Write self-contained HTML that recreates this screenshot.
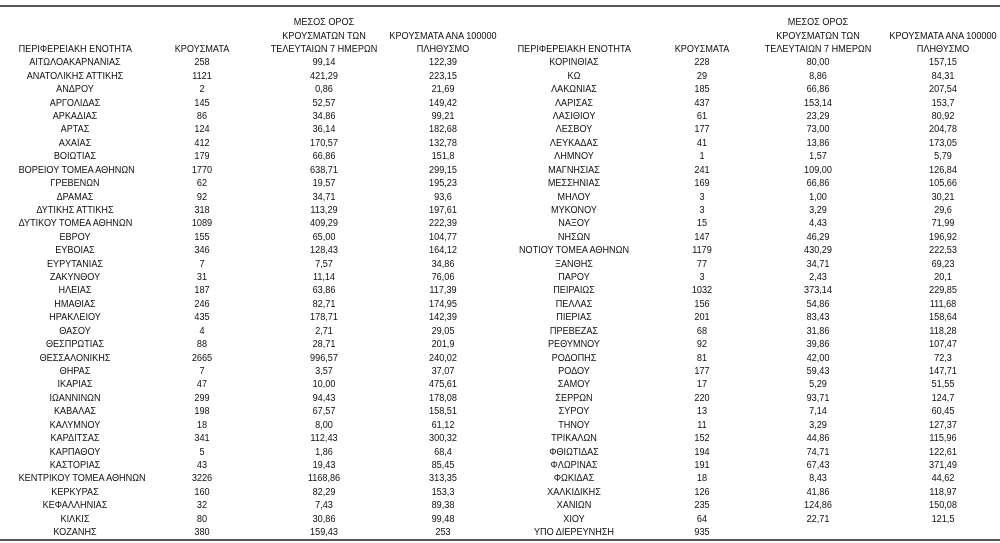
<!DOCTYPE html>
<html><head><meta charset="utf-8"><style>
html,body{margin:0;padding:0;background:#fff;}
body{width:1000px;height:543px;position:relative;overflow:hidden;font-family:"Liberation Sans","DejaVu Sans",sans-serif;font-size:9.7px;color:#111;}
.line{position:absolute;left:0;width:1000px;height:2px;background:#555;}
.r{position:relative;height:13.43px;line-height:13.43px;}
.r span,.h span{position:absolute;top:0;width:120px;text-align:center;white-space:nowrap;transform:scaleX(0.94);}
.r span:nth-child(1),.h span:nth-child(1){left:15px}
.r span:nth-child(2),.h span:nth-child(2){left:142px}
.r span:nth-child(3),.h span:nth-child(3){left:264px}
.r span:nth-child(4),.h span:nth-child(4){left:383px}
.r span:nth-child(5),.h span:nth-child(5){left:514px}
.r span:nth-child(6),.h span:nth-child(6){left:642px}
.r span:nth-child(7),.h span:nth-child(7){left:758px}
.r span:nth-child(8),.h span:nth-child(8){left:883px}
.h{position:absolute;left:0;width:1000px;height:13.5px;line-height:13.5px;}
#rows{position:absolute;left:0;top:56.3px;width:1000px;}
</style></head><body>
<div class="line" style="top:5px"></div>
<div class="h" style="top:16px"><span></span><span></span><span>ΜΕΣΟΣ ΟΡΟΣ</span><span></span><span></span><span></span><span>ΜΕΣΟΣ ΟΡΟΣ</span><span></span></div>
<div class="h" style="top:29.5px"><span></span><span></span><span>ΚΡΟΥΣΜΑΤΩΝ ΤΩΝ</span><span>ΚΡΟΥΣΜΑΤΑ ΑΝΑ 100000</span><span></span><span></span><span>ΚΡΟΥΣΜΑΤΩΝ ΤΩΝ</span><span>ΚΡΟΥΣΜΑΤΑ ΑΝΑ 100000</span></div>
<div class="h" style="top:43px"><span>ΠΕΡΙΦΕΡΕΙΑΚΗ ΕΝΟΤΗΤΑ</span><span>ΚΡΟΥΣΜΑΤΑ</span><span>ΤΕΛΕΥΤΑΙΩΝ 7 ΗΜΕΡΩΝ</span><span>ΠΛΗΘΥΣΜΟ</span><span>ΠΕΡΙΦΕΡΕΙΑΚΗ ΕΝΟΤΗΤΑ</span><span>ΚΡΟΥΣΜΑΤΑ</span><span>ΤΕΛΕΥΤΑΙΩΝ 7 ΗΜΕΡΩΝ</span><span>ΠΛΗΘΥΣΜΟ</span></div>
<div id="rows">
<div class="r"><span>ΑΙΤΩΛΟΑΚΑΡΝΑΝΙΑΣ</span><span>258</span><span>99,14</span><span>122,39</span><span>ΚΟΡΙΝΘΙΑΣ</span><span>228</span><span>80,00</span><span>157,15</span></div>
<div class="r"><span>ΑΝΑΤΟΛΙΚΗΣ ΑΤΤΙΚΗΣ</span><span>1121</span><span>421,29</span><span>223,15</span><span>ΚΩ</span><span>29</span><span>8,86</span><span>84,31</span></div>
<div class="r"><span>ΑΝΔΡΟΥ</span><span>2</span><span>0,86</span><span>21,69</span><span>ΛΑΚΩΝΙΑΣ</span><span>185</span><span>66,86</span><span>207,54</span></div>
<div class="r"><span>ΑΡΓΟΛΙΔΑΣ</span><span>145</span><span>52,57</span><span>149,42</span><span>ΛΑΡΙΣΑΣ</span><span>437</span><span>153,14</span><span>153,7</span></div>
<div class="r"><span>ΑΡΚΑΔΙΑΣ</span><span>86</span><span>34,86</span><span>99,21</span><span>ΛΑΣΙΘΙΟΥ</span><span>61</span><span>23,29</span><span>80,92</span></div>
<div class="r"><span>ΑΡΤΑΣ</span><span>124</span><span>36,14</span><span>182,68</span><span>ΛΕΣΒΟΥ</span><span>177</span><span>73,00</span><span>204,78</span></div>
<div class="r"><span>ΑΧΑΪΑΣ</span><span>412</span><span>170,57</span><span>132,78</span><span>ΛΕΥΚΑΔΑΣ</span><span>41</span><span>13,86</span><span>173,05</span></div>
<div class="r"><span>ΒΟΙΩΤΙΑΣ</span><span>179</span><span>66,86</span><span>151,8</span><span>ΛΗΜΝΟΥ</span><span>1</span><span>1,57</span><span>5,79</span></div>
<div class="r"><span>ΒΟΡΕΙΟΥ ΤΟΜΕΑ ΑΘΗΝΩΝ</span><span>1770</span><span>638,71</span><span>299,15</span><span>ΜΑΓΝΗΣΙΑΣ</span><span>241</span><span>109,00</span><span>126,84</span></div>
<div class="r"><span>ΓΡΕΒΕΝΩΝ</span><span>62</span><span>19,57</span><span>195,23</span><span>ΜΕΣΣΗΝΙΑΣ</span><span>169</span><span>66,86</span><span>105,66</span></div>
<div class="r"><span>ΔΡΑΜΑΣ</span><span>92</span><span>34,71</span><span>93,6</span><span>ΜΗΛΟΥ</span><span>3</span><span>1,00</span><span>30,21</span></div>
<div class="r"><span>ΔΥΤΙΚΗΣ ΑΤΤΙΚΗΣ</span><span>318</span><span>113,29</span><span>197,61</span><span>ΜΥΚΟΝΟΥ</span><span>3</span><span>3,29</span><span>29,6</span></div>
<div class="r"><span>ΔΥΤΙΚΟΥ ΤΟΜΕΑ ΑΘΗΝΩΝ</span><span>1089</span><span>409,29</span><span>222,39</span><span>ΝΑΞΟΥ</span><span>15</span><span>4,43</span><span>71,99</span></div>
<div class="r"><span>ΕΒΡΟΥ</span><span>155</span><span>65,00</span><span>104,77</span><span>ΝΗΣΩΝ</span><span>147</span><span>46,29</span><span>196,92</span></div>
<div class="r"><span>ΕΥΒΟΙΑΣ</span><span>346</span><span>128,43</span><span>164,12</span><span>ΝΟΤΙΟΥ ΤΟΜΕΑ ΑΘΗΝΩΝ</span><span>1179</span><span>430,29</span><span>222,53</span></div>
<div class="r"><span>ΕΥΡΥΤΑΝΙΑΣ</span><span>7</span><span>7,57</span><span>34,86</span><span>ΞΑΝΘΗΣ</span><span>77</span><span>34,71</span><span>69,23</span></div>
<div class="r"><span>ΖΑΚΥΝΘΟΥ</span><span>31</span><span>11,14</span><span>76,06</span><span>ΠΑΡΟΥ</span><span>3</span><span>2,43</span><span>20,1</span></div>
<div class="r"><span>ΗΛΕΙΑΣ</span><span>187</span><span>63,86</span><span>117,39</span><span>ΠΕΙΡΑΙΩΣ</span><span>1032</span><span>373,14</span><span>229,85</span></div>
<div class="r"><span>ΗΜΑΘΙΑΣ</span><span>246</span><span>82,71</span><span>174,95</span><span>ΠΕΛΛΑΣ</span><span>156</span><span>54,86</span><span>111,68</span></div>
<div class="r"><span>ΗΡΑΚΛΕΙΟΥ</span><span>435</span><span>178,71</span><span>142,39</span><span>ΠΙΕΡΙΑΣ</span><span>201</span><span>83,43</span><span>158,64</span></div>
<div class="r"><span>ΘΑΣΟΥ</span><span>4</span><span>2,71</span><span>29,05</span><span>ΠΡΕΒΕΖΑΣ</span><span>68</span><span>31,86</span><span>118,28</span></div>
<div class="r"><span>ΘΕΣΠΡΩΤΙΑΣ</span><span>88</span><span>28,71</span><span>201,9</span><span>ΡΕΘΥΜΝΟΥ</span><span>92</span><span>39,86</span><span>107,47</span></div>
<div class="r"><span>ΘΕΣΣΑΛΟΝΙΚΗΣ</span><span>2665</span><span>996,57</span><span>240,02</span><span>ΡΟΔΟΠΗΣ</span><span>81</span><span>42,00</span><span>72,3</span></div>
<div class="r"><span>ΘΗΡΑΣ</span><span>7</span><span>3,57</span><span>37,07</span><span>ΡΟΔΟΥ</span><span>177</span><span>59,43</span><span>147,71</span></div>
<div class="r"><span>ΙΚΑΡΙΑΣ</span><span>47</span><span>10,00</span><span>475,61</span><span>ΣΑΜΟΥ</span><span>17</span><span>5,29</span><span>51,55</span></div>
<div class="r"><span>ΙΩΑΝΝΙΝΩΝ</span><span>299</span><span>94,43</span><span>178,08</span><span>ΣΕΡΡΩΝ</span><span>220</span><span>93,71</span><span>124,7</span></div>
<div class="r"><span>ΚΑΒΑΛΑΣ</span><span>198</span><span>67,57</span><span>158,51</span><span>ΣΥΡΟΥ</span><span>13</span><span>7,14</span><span>60,45</span></div>
<div class="r"><span>ΚΑΛΥΜΝΟΥ</span><span>18</span><span>8,00</span><span>61,12</span><span>ΤΗΝΟΥ</span><span>11</span><span>3,29</span><span>127,37</span></div>
<div class="r"><span>ΚΑΡΔΙΤΣΑΣ</span><span>341</span><span>112,43</span><span>300,32</span><span>ΤΡΙΚΑΛΩΝ</span><span>152</span><span>44,86</span><span>115,96</span></div>
<div class="r"><span>ΚΑΡΠΑΘΟΥ</span><span>5</span><span>1,86</span><span>68,4</span><span>ΦΘΙΩΤΙΔΑΣ</span><span>194</span><span>74,71</span><span>122,61</span></div>
<div class="r"><span>ΚΑΣΤΟΡΙΑΣ</span><span>43</span><span>19,43</span><span>85,45</span><span>ΦΛΩΡΙΝΑΣ</span><span>191</span><span>67,43</span><span>371,49</span></div>
<div class="r"><span>ΚΕΝΤΡΙΚΟΥ ΤΟΜΕΑ ΑΘΗΝΩΝ</span><span>3226</span><span>1168,86</span><span>313,35</span><span>ΦΩΚΙΔΑΣ</span><span>18</span><span>8,43</span><span>44,62</span></div>
<div class="r"><span>ΚΕΡΚΥΡΑΣ</span><span>160</span><span>82,29</span><span>153,3</span><span>ΧΑΛΚΙΔΙΚΗΣ</span><span>126</span><span>41,86</span><span>118,97</span></div>
<div class="r"><span>ΚΕΦΑΛΛΗΝΙΑΣ</span><span>32</span><span>7,43</span><span>89,38</span><span>ΧΑΝΙΩΝ</span><span>235</span><span>124,86</span><span>150,08</span></div>
<div class="r"><span>ΚΙΛΚΙΣ</span><span>80</span><span>30,86</span><span>99,48</span><span>ΧΙΟΥ</span><span>64</span><span>22,71</span><span>121,5</span></div>
<div class="r"><span>ΚΟΖΑΝΗΣ</span><span>380</span><span>159,43</span><span>253</span><span>ΥΠΟ ΔΙΕΡΕΥΝΗΣΗ</span><span>935</span><span></span><span></span></div>
</div>
<div class="line" style="top:539px"></div>
</body></html>
